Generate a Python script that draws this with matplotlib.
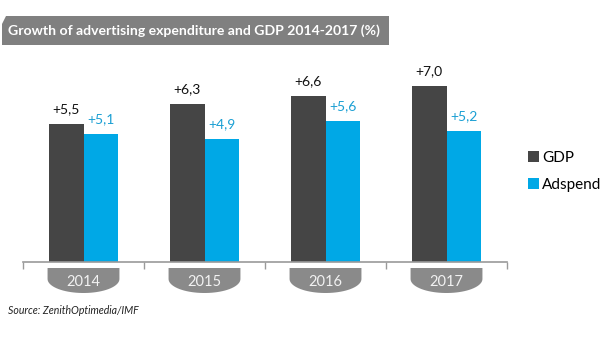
import matplotlib
matplotlib.use("Agg")
import matplotlib.pyplot as plt
import numpy as np
from matplotlib.patches import Polygon
from matplotlib.transforms import blended_transform_factory

# Data
years = ["2014", "2015", "2016", "2017"]
gdp = [5.5, 6.3, 6.6, 7.0]
adspend = [5.1, 4.9, 5.6, 5.2]
gdp_labels = ["+5,5", "+6,3", "+6,6", "+7,0"]
adspend_labels = ["+5,1", "+4,9", "+5,6", "+5,2"]
series_names = ["GDP", "Adspend"]
title = "Growth of advertising expenditure and GDP 2014-2017 (%)"
source = "Source: ZenithOptimedia/IMF"

# Styling
FONT = "Lato"
C_GDP = "#454545"
C_AD = "#00a8e6"
C_AD_TXT = "#1a9fd3"
C_TAB = "#8a8a8a"
W, H = 616, 348

plt.rcParams["font.family"] = [FONT, "DejaVu Sans"]
fig = plt.figure(figsize=(W / 100, H / 100), dpi=100)

def fx(px):
    return px / W

def fy(py):
    return 1 - py / H

# Plot area: baseline at y=262 px, 0..8 units
ax_left, ax_right = 23, 507
base_y = 262
unit_px = 25.1
ymax = 8.0
ax = fig.add_axes([fx(ax_left), fy(base_y), fx(ax_right - ax_left), ymax * unit_px / H])

x = np.arange(len(years))
bw = 0.285
b1 = ax.bar(x - bw / 2, gdp, width=bw, color=C_GDP, label=series_names[0])
b2 = ax.bar(x + bw / 2, adspend, width=bw, color=C_AD, label=series_names[1])

for rect, lab in zip(b1, gdp_labels):
    ax.annotate(lab, (rect.get_x() + rect.get_width() / 2, rect.get_height()),
                xytext=(0, 6.5), textcoords="offset points", ha="center", va="bottom",
                fontsize=10, color="#111111")
for rect, lab in zip(b2, adspend_labels):
    ax.annotate(lab, (rect.get_x() + rect.get_width() / 2, rect.get_height()),
                xytext=(0, 6.5), textcoords="offset points", ha="center", va="bottom",
                fontsize=10, color=C_AD_TXT)

ax.set_xlim(-0.5, len(years) - 0.5)
ax.set_ylim(0, ymax)
for s in ["top", "left", "right"]:
    ax.spines[s].set_visible(False)
ax.spines["bottom"].set_color("#9a9a9a")
ax.spines["bottom"].set_linewidth(1.2)
ax.set_yticks([])
ax.set_xticks(np.arange(len(years) + 1) - 0.5)
ax.set_xticklabels([])
ax.tick_params(axis="x", direction="out", length=5, width=1, color="#9a9a9a")
ax.patch.set_alpha(0)

# Year tabs below the axis (rounded bottom)
tr = blended_transform_factory(ax.transData, fig.transFigure)
half = 0.297
top_px, side_px, bot_px = 268, 279, 293
for i, yr in enumerate(years):
    verts = [(i - half, fy(top_px)), (i + half, fy(top_px)), (i + half, fy(side_px))]
    for tt in np.linspace(0, np.pi, 40):
        verts.append((i + half * np.cos(tt), fy(side_px + (bot_px - side_px) * np.sin(tt))))
    verts.append((i - half, fy(side_px)))
    fig.patches.append(Polygon(verts, closed=True, transform=tr, facecolor=C_TAB,
                               edgecolor="none", figure=fig))
    fig.text(i, fy(282), yr, transform=tr, ha="center", va="center",
             fontsize=10.5, color="#f2f2f2")

# Title banner
banner = Polygon([(fx(2), fy(24)), (fx(6), fy(16)), (fx(389), fy(16)),
                  (fx(389), fy(45)), (fx(2), fy(45))], closed=True,
                 transform=fig.transFigure, facecolor="#808080", edgecolor="none")
fig.patches.append(banner)
fig.text(fx(8), fy(30.5), title, ha="left", va="center", fontsize=10.1,
         fontweight="bold", color="white")

# Legend
fig.legend(handles=[b1, b2], labels=series_names, loc="upper left",
           bbox_to_anchor=(fx(528), fy(151)), frameon=False, fontsize=11,
           handlelength=0.72, handleheight=0.72, handletextpad=0.2,
           labelspacing=0.85, borderaxespad=0, borderpad=0)

# Source note
fig.text(fx(8), fy(311), source, ha="left", va="center", fontsize=7.6,
         style="italic", color="#222222")

fig.savefig("out.png", dpi=100)
